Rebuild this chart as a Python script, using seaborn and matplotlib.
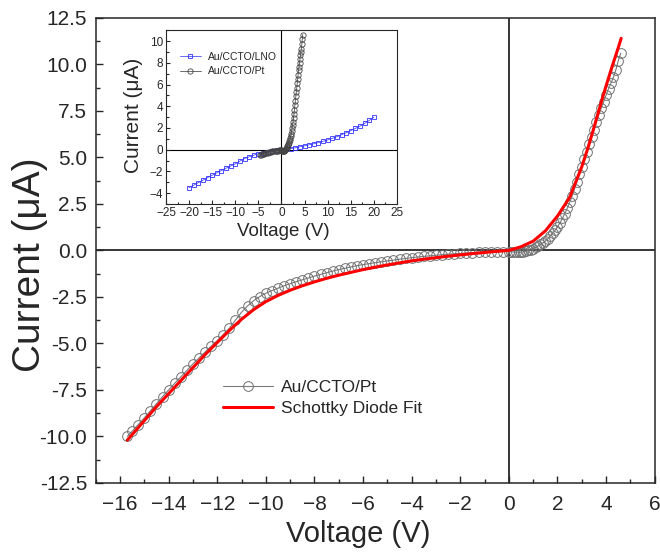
import pandas as pd
import seaborn as sns
import matplotlib.pyplot as plt
from matplotlib.ticker import MultipleLocator

# Au/CCTO/Pt measured I-V (main panel)
pt_voltage = [-15.7, -15.5, -15.25, -15.0, -14.75, -14.5, -14.25, -14.0, -13.75, -13.5, -13.25, -13.0,
              -12.75, -12.5, -12.25, -12.0, -11.75, -11.5, -11.25, -11.0, -10.75, -10.5, -10.25, -10.0,
              -9.75, -9.5, -9.25, -9.0, -8.75, -8.5, -8.25, -8.0, -7.75, -7.5, -7.25, -7.0,
              -6.75, -6.5, -6.25, -6.0, -5.75, -5.5, -5.25, -5.0, -4.75, -4.5, -4.25, -4.0,
              -3.75, -3.5, -3.25, -3.0, -2.75, -2.5, -2.25, -2.0, -1.75, -1.5, -1.25, -1.0,
              -0.75, -0.5, -0.25,
              0.0, 0.1, 0.2, 0.3, 0.4, 0.5, 0.6, 0.7, 0.8, 0.9, 1.0, 1.1, 1.2, 1.3, 1.4, 1.5,
              1.6, 1.7, 1.8, 1.9, 2.0, 2.1, 2.2, 2.3, 2.4, 2.5, 2.6, 2.7, 2.8, 2.9, 3.0, 3.1,
              3.2, 3.3, 3.4, 3.5, 3.6, 3.7, 3.8, 3.9, 4.0, 4.1, 4.2, 4.3, 4.4, 4.5, 4.6]
pt_current = [-10.0, -9.72, -9.36, -9.0, -8.62, -8.24, -7.86, -7.5, -7.14, -6.8, -6.45, -6.1,
              -5.78, -5.46, -5.15, -4.85, -4.52, -4.18, -3.75, -3.32, -2.98, -2.7, -2.48, -2.3,
              -2.16, -2.03, -1.9, -1.79, -1.68, -1.58, -1.48, -1.38, -1.29, -1.2, -1.11, -1.03,
              -0.96, -0.89, -0.82, -0.76, -0.71, -0.66, -0.61, -0.56, -0.52, -0.47, -0.43, -0.39,
              -0.35, -0.32, -0.29, -0.26, -0.23, -0.2, -0.18, -0.16, -0.14, -0.12, -0.1, -0.09,
              -0.08, -0.07, -0.06,
              -0.06, -0.07, -0.08, -0.09, -0.1, -0.1, -0.08, -0.05, 0.0, 0.05, 0.1, 0.17, 0.24, 0.32, 0.4, 0.5,
              0.62, 0.76, 0.92, 1.08, 1.27, 1.48, 1.72, 1.98, 2.26, 2.58, 2.92, 3.3, 3.7, 4.1, 4.5, 4.9,
              5.3, 5.7, 6.1, 6.5, 6.9, 7.3, 7.65, 8.0, 8.35, 8.7, 9.0, 9.3, 9.7, 10.2, 10.6]

# Schottky diode fit
fit_voltage = [-15.7, -15.0, -14.5, -14.0, -13.5, -13.0, -12.5, -12.0, -11.5, -11.0, -10.5, -10.0,
               -9.5, -9.0, -8.5, -8.0, -7.5, -7.0, -6.5, -6.0, -5.5, -5.0, -4.5, -4.0, -3.5, -3.0,
               -2.5, -2.0, -1.5, -1.0, -0.5, 0.0, 0.5, 1.0, 1.5, 2.0, 2.5, 3.0, 3.25, 3.5, 3.75,
               4.0, 4.25, 4.5, 4.62]
fit_current = [-10.2, -9.15, -8.4, -7.7, -7.0, -6.3, -5.6, -4.95, -4.3, -3.7, -3.18, -2.75,
               -2.42, -2.14, -1.9, -1.69, -1.5, -1.33, -1.18, -1.03, -0.9, -0.78, -0.67, -0.56, -0.47,
               -0.39, -0.31, -0.24, -0.17, -0.11, -0.05, 0.0, 0.2, 0.5, 1.05, 1.85, 2.85, 4.5, 5.5,
               6.6, 7.75, 8.85, 9.9, 10.9, 11.4]

# inset: Au/CCTO/LNO
lno_voltage = list(range(-20, 21))
lno_current = [-3.5, -3.27, -3.03, -2.8, -2.57, -2.35, -2.13, -1.92, -1.7, -1.5, -1.3, -1.05, -0.82,
               -0.65, -0.5, -0.38, -0.3, -0.22, -0.14, -0.07, 0.0, 0.05, 0.11, 0.18, 0.27, 0.36,
               0.45, 0.55, 0.66, 0.78, 0.9, 1.05, 1.2, 1.38, 1.56, 1.76, 1.96, 2.18, 2.42, 2.7, 3.0]

pt = pd.DataFrame({'Voltage': pt_voltage, 'Current': pt_current})
fit = pd.DataFrame({'Voltage': fit_voltage, 'Current': fit_current})
lno = pd.DataFrame({'Voltage': lno_voltage, 'Current': lno_current})
pt_inset = pt[pt['Voltage'] >= -4.75]

sns.set_style('ticks')
plt.rcParams['font.family'] = ['Liberation Sans', 'DejaVu Sans']
plt.rcParams['xtick.direction'] = 'in'
plt.rcParams['ytick.direction'] = 'in'

fig = plt.figure(figsize=(6.6, 5.59), dpi=100)
ax = fig.add_axes([0.145, 0.136, 0.847, 0.832])

sns.lineplot(data=pt, x='Voltage', y='Current', ax=ax, sort=False, estimator=None, color='#7a7a7a',
             lw=0.8, marker='o', markersize=7, mfc='none', mec='#707070', mew=0.7,
             label='Au/CCTO/Pt')
sns.lineplot(data=fit, x='Voltage', y='Current', ax=ax, sort=False, estimator=None, color='#ff0000',
             lw=2.2, label='Schottky Diode Fit')
ax.axvline(0, color='black', lw=1.1, zorder=0)
ax.axhline(0, color='black', lw=1.1, zorder=0)

ax.set_xlim(-17, 6)
ax.set_ylim(-12.5, 12.5)
ax.xaxis.set_major_locator(MultipleLocator(2))
ax.xaxis.set_minor_locator(MultipleLocator(1))
ax.yaxis.set_major_locator(MultipleLocator(2.5))
ax.yaxis.set_minor_locator(MultipleLocator(1.25))
ax.yaxis.set_major_formatter(plt.FormatStrFormatter('%.1f'))
ax.tick_params(which='major', length=5, width=1, labelsize=15)
ax.tick_params(axis='x', which='major', pad=9)
ax.tick_params(axis='y', which='major', pad=6)
ax.tick_params(which='minor', length=3, width=1)
for s in ax.spines.values():
    s.set_linewidth(1.1)
ax.set_xlabel('Voltage (V)', fontsize=21)
ax.set_ylabel('Current (μA)', fontsize=28)
ax.xaxis.set_label_coords(0.47, -0.08)
ax.yaxis.set_label_coords(-0.086, 0.47)
ax.legend(loc='center left', bbox_to_anchor=(0.2, 0.183), frameon=False, fontsize=12.5,
          handlelength=2.9, handletextpad=0.45, labelspacing=0.3)

# inset
axi = fig.add_axes([0.2515, 0.635, 0.35, 0.311])
sns.lineplot(data=lno, x='Voltage', y='Current', ax=axi, sort=False, estimator=None, color='#4d4dff',
             lw=0.6, marker='s', markersize=3.5, mfc='none', mec='#3333ff', mew=0.6,
             label='Au/CCTO/LNO')
sns.lineplot(data=pt_inset, x='Voltage', y='Current', ax=axi, sort=False, estimator=None, color='#555555',
             lw=0.6, marker='o', markersize=3.8, mfc='none', mec='#444444', mew=0.6,
             label='Au/CCTO/Pt')
axi.axvline(0, color='black', lw=0.8, zorder=0)
axi.axhline(0, color='black', lw=0.8, zorder=0)
axi.set_xlim(-25, 25)
axi.set_ylim(-5, 11)
axi.xaxis.set_major_locator(MultipleLocator(5))
axi.xaxis.set_minor_locator(MultipleLocator(2.5))
axi.yaxis.set_minor_locator(MultipleLocator(1))
axi.set_yticks([-4, -2, 0, 2, 4, 6, 8, 10])
axi.tick_params(which='major', length=3, width=0.8, labelsize=8.5, pad=2)
axi.tick_params(which='minor', length=1.8, width=0.8)
for s in axi.spines.values():
    s.set_linewidth(0.8)
axi.set_xlabel('Voltage (V)', fontsize=13.5)
axi.set_ylabel('Current (μA)', fontsize=15)
axi.xaxis.set_label_coords(0.51, -0.11)
axi.yaxis.set_label_coords(-0.1, 0.51)
axi.legend(loc='center left', bbox_to_anchor=(0.02, 0.805), frameon=False, fontsize=7.5,
           handlelength=2.0, handletextpad=0.7, labelspacing=0.4)

fig.savefig('out.png', dpi=100)
